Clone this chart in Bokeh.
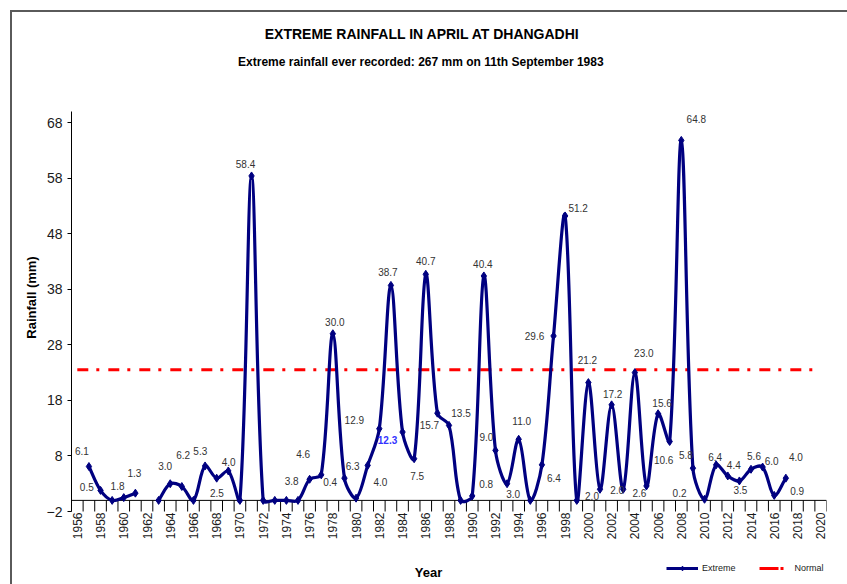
import math
from bokeh.plotting import figure
from bokeh.models import ColumnDataSource, FixedTicker, Legend, LegendItem, Label
from bokeh.core.properties import value
from bokeh.embed import file_html
from bokeh.resources import INLINE

# ---------------- data ----------------
years = list(range(1957, 2018))
extreme = [6.1, 1.8, 0.0, 0.5, 1.3, None, 0.0, 3.0, 2.5, 0.0,
           6.2, 4.0, 5.3, 0.0, 58.4, 0.0, 0.0, 0.0, 0.0, 3.8,
           4.6, 30.0, 4.0, 0.4, 6.3, 12.9, 38.7, 12.3, 7.5, 40.7,
           15.7, 13.5, 0.0, 0.8, 40.4, 9.0, 3.0, 11.0, 0.0, 6.4,
           29.6, 51.2, 0.0, 21.2, 2.0, 17.2, 2.0, 23.0, 2.6, 15.6,
           10.6, 64.8, 5.8, 0.2, 6.4, 4.4, 3.5, 5.6, 6.0, 0.9, 4.0]
normal_value = 23.5
axis_years = list(range(1956, 2021))
year_ticks = list(range(1956, 2021, 2))
y_ticks = list(range(-2, 69, 10))
y_axis_min, y_axis_max = -2, 70
title_text = "EXTREME RAINFALL IN APRIL AT DHANGADHI"
subtitle_text = "Extreme rainfall ever recorded: 267 mm on 11th  September 1983"
x_title = "Year"
y_title = "Rainfall (mm)"
series_names = ["Extreme", "Normal"]
highlight_year = 1984

# ---------------- layout / style ----------------
FONT = "Liberation Sans"
NAVY = "#000080"
RED = "#FF0000"
W, H = 847, 584
FL, FW = 71, 755            # frame left / width (px)
FT, FB = 14, 580            # frame top / bottom (px)
AX_TOP, AX_BOT = 111, 511   # pixel rows of y_axis_max / y_axis_min
X0, X1 = axis_years[0] - 0.5, axis_years[-1] + 0.5
PPU = (AX_BOT - AX_TOP) / (y_axis_max - y_axis_min)
Y1 = y_axis_max + (AX_TOP - FT) / PPU
Y0 = y_axis_min - (FB - AX_BOT) / PPU


def px2x(px):
    return X0 + (px - FL) / FW * (X1 - X0)


def py2y(py):
    return Y1 - (py - FT) / PPU


# pixel offsets of each value label from its point (in order of non-zero points)
label_dx = [-7, 17, -37, -1, -5, 35, -22, 12, -28, -6, -18, -18, 2, 36, -26, -15, -25, -3,
            -15, 3, 0, -8, 12, 14, -1, -9, 6, 3, 12, -19, 13, -1, -8, 1, -6, 9, -7, 4,
            -6, 15, -7, -25, -1, 6, 1, 3, 9, 23, 10]
label_dy = [-16, -4, -11, -20, -18, 6, -11, -16, -20, -12, 2, -21, -12, 4, -16, 1, -9, -13,
            8, 17, -13, 12, -12, -12, -12, -13, 10, -18, 13, 0, -8, -23, 7, -11, 1, -20, 7,
            -11, 18, -21, -13, -6, -8, -11, 9, -13, -6, -4, -21]

p = figure(frame_width=FW, frame_height=FB - FT, x_range=(X0, X1), y_range=(Y0, Y1),
           output_backend="svg", toolbar_location=None,
           min_border_left=FL, min_border_top=FT,
           min_border_right=W - FL - FW, min_border_bottom=H - FB)
p.title.visible = False
p.xgrid.visible = False
p.ygrid.visible = False
p.outline_line_color = None
p.background_fill_color = "white"
p.border_fill_color = None
p.styles = {"background": "linear-gradient(#5a5a5a,#5a5a5a) 10px 10px / 100% 2px no-repeat, "
                          "linear-gradient(#5a5a5a,#5a5a5a) 10px 10px / 2px 100% no-repeat, #ffffff"}

# y axis
yax = p.yaxis[0]
yax.ticker = FixedTicker(ticks=y_ticks)
yax.bounds = (y_axis_min, y_axis_max)
yax.axis_line_color = "black"
yax.major_tick_out = 4
yax.major_tick_in = 0
yax.minor_tick_line_color = None
yax.major_label_standoff = 5
yax.major_label_text_font = FONT
yax.major_label_text_font_size = "14px"
yax.major_label_text_color = "#1a1a1a"
yax.axis_label = y_title
yax.axis_label_text_font = FONT
yax.axis_label_text_font_size = "13px"
yax.axis_label_text_font_style = "bold"
yax.axis_label_text_color = "black"
yax.axis_label_standoff = 5

# x axis (placed at the bottom of the value range)
xax = p.xaxis[0]
xax.fixed_location = y_axis_min
xax.ticker = FixedTicker(ticks=year_ticks)
xax.axis_line_color = None
xax.major_tick_in = 0
xax.major_tick_out = 0
xax.minor_tick_line_color = None
xax.major_label_orientation = math.pi / 2
xax.major_label_standoff = 1
xax.major_label_text_font = FONT
xax.major_label_text_font_size = "12px"
xax.major_label_text_color = "#1a1a1a"

# x axis line at zero and category tick marks
p.segment(x0=[X0], y0=[0], x1=[X1], y1=[0], line_color="black", line_width=1)
bounds = [a - 0.5 for a in axis_years] + [axis_years[-1] + 0.5]
p.segment(x0=bounds, y0=[y_axis_min] * len(bounds), x1=bounds, y1=[0] * len(bounds),
          line_color="black", line_width=1)

# normal line
p.line(x=[axis_years[0], axis_years[-1]], y=[normal_value, normal_value],
       line_color=RED, line_width=3, line_dash="11 8 3 9")

# smoothed extreme line (bezier through data points)
kx = FW / (X1 - X0)
ky = PPU
segments, cur = [], []
for yr, v in zip(years, extreme):
    if v is None:
        if cur:
            segments.append(cur)
        cur = []
    else:
        cur.append((yr, v))
if cur:
    segments.append(cur)

TEN = 1.0 / 3.0
bz = dict(x0=[], y0=[], x1=[], y1=[], cx0=[], cy0=[], cx1=[], cy1=[])
for seg in segments:
    P = [(x * kx, y * ky) for x, y in seg]
    n = len(P)
    fwd, bwd = [], []
    for i in range(n):
        a, b, c = P[max(i - 1, 0)], P[i], P[min(i + 1, n - 1)]
        tx, ty = c[0] - a[0], c[1] - a[1]
        d01 = math.hypot(b[0] - a[0], b[1] - a[1])
        d12 = math.hypot(c[0] - b[0], c[1] - b[1])
        s = d01 + d12
        if s == 0:
            fwd.append((0, 0)); bwd.append((0, 0)); continue
        fwd.append((tx * TEN * d12 / s, ty * TEN * d12 / s))
        bwd.append((tx * TEN * d01 / s, ty * TEN * d01 / s))
    for i in range(n - 1):
        bz["x0"].append(seg[i][0]); bz["y0"].append(seg[i][1])
        bz["x1"].append(seg[i + 1][0]); bz["y1"].append(seg[i + 1][1])
        bz["cx0"].append((P[i][0] + fwd[i][0]) / kx)
        bz["cy0"].append((P[i][1] + fwd[i][1]) / ky)
        bz["cx1"].append((P[i + 1][0] - bwd[i + 1][0]) / kx)
        bz["cy1"].append((P[i + 1][1] - bwd[i + 1][1]) / ky)

p.bezier(x0="x0", y0="y0", x1="x1", y1="y1", cx0="cx0", cy0="cy0", cx1="cx1", cy1="cy1",
         source=ColumnDataSource(bz), line_color=NAVY, line_width=3.2,
         line_cap="round", line_join="round")

px_ = [yr for yr, v in zip(years, extreme) if v is not None]
pv_ = [v for v in extreme if v is not None]
p.scatter(px_, pv_, marker="diamond", size=8, color=NAVY)

# value labels
lx, ly, lt, lc, lf = [], [], [], [], []
for yr, v in zip(years, extreme):
    if v is None or v == 0:
        continue
    lx.append(yr); ly.append(v); lt.append(f"{v:.1f}")
    if yr == highlight_year:
        lc.append("#3333FF"); lf.append("bold")
    else:
        lc.append("#333333"); lf.append("normal")
lsrc = ColumnDataSource(dict(x=lx, y=ly, text=lt, dx=label_dx, dy=label_dy, c=lc, f=lf))
p.text(x="x", y="y", text="text", x_offset="dx", y_offset="dy", source=lsrc,
       text_align="center", text_baseline="middle", text_font=value(FONT),
       text_font_size="10px", text_color="c", text_font_style="f")

# titles
p.add_layout(Label(x=px2x(422), y=py2y(33), text=title_text, text_align="center",
                   text_baseline="middle", text_font=FONT, text_font_size="14px",
                   text_font_style="bold", text_color="black"))
p.add_layout(Label(x=px2x(422), y=py2y(61), text=subtitle_text, text_align="center",
                   text_baseline="middle", text_font=FONT, text_font_size="12px",
                   text_font_style="bold", text_color="black"))
p.add_layout(Label(x=px2x(428), y=py2y(572), text=x_title, text_align="center",
                   text_baseline="middle", text_font=FONT, text_font_size="13px",
                   text_font_style="bold", text_color="black"))

# legend (sample renderers hold a point outside the visible range)
off_x = [X0 - 10, X0 - 9]
off_y = [Y0 - 10, Y0 - 10]
r_ext_line = p.line(off_x, off_y, line_color=NAVY, line_width=3)
r_ext_pt = p.scatter(off_x, off_y, marker="diamond", size=7, color=NAVY)
r_norm = p.line(off_x, off_y, line_color=RED, line_width=3, line_dash="19 2 3 30")
legend = Legend(items=[LegendItem(label=series_names[0], renderers=[r_ext_line, r_ext_pt]),
                       LegendItem(label=series_names[1], renderers=[r_norm])],
                location=(595, 6), orientation="horizontal",
                glyph_width=32, glyph_height=12, label_height=12, label_standoff=4,
                spacing=23, padding=0, margin=0, border_line_color=None,
                background_fill_alpha=0, label_text_font=FONT,
                label_text_font_size="9px", label_text_color="#1a1a1a")
p.add_layout(legend)

open("out.html", "w").write(file_html(p, INLINE))
